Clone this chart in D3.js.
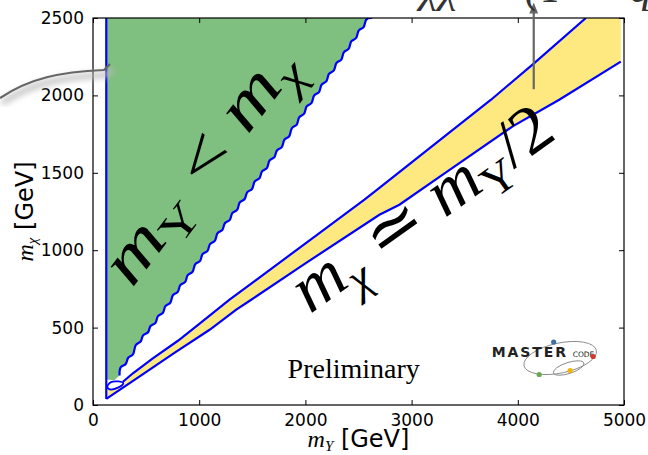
<!DOCTYPE html>
<html>
<head>
<meta charset="utf-8">
<script src="https://cdn.jsdelivr.net/npm/d3@7"></script>
<style>
  body { margin: 0; background: #fff; }
  svg { display: block; }
  .tick text { font-family: "DejaVu Sans", sans-serif; font-size: 17px; fill: #000; }
  .axis path { display: none; }
  .tick line { stroke: #000; }
</style>
</head>
<body>
<div id="chart"></div>
<script>
// axis ticks
var xTicks = [0, 1000, 2000, 3000, 4000, 5000];
var yTicks = [0, 500, 1000, 1500, 2000, 2500];

// left edge of the regions (m_Y threshold)
var edgeMY = 125;

// green region (m_Y < m_chi) : staircase boundary
var greenEdgeMY  = [250, 320, 390, 460, 530, 600, 670, 740, 810, 880, 950, 1020, 1090, 1160, 1230, 1300, 1370, 1440, 1510, 1580, 1650, 1720, 1790, 1860, 1930, 2000, 2070, 2140, 2210, 2280, 2350, 2420, 2490, 2560, 2630];
var greenEdgeMChi = [190, 255, 315, 400, 460, 520, 585, 650, 720, 785, 850, 920, 985, 1050, 1120, 1185, 1250, 1320, 1385, 1455, 1520, 1590, 1655, 1725, 1800, 1870, 1940, 2010, 2080, 2150, 2220, 2290, 2360, 2430, 2500];

// yellow band (m_chi ~ m_Y/2) : lower and upper contours
var lowerMY   = [125, 450, 770, 1098, 1349, 1490, 2000, 2697, 2885, 3300, 3951, 4390, 4970];
var lowerMChi = [39, 190, 338, 486, 616, 680, 915, 1229, 1294, 1491, 1800, 1972, 2218];
var upperMY   = [282, 376, 560, 800, 1004, 1286, 1700, 2100, 2556, 2697, 3200, 3748, 4155, 4641];
var upperMChi = [150, 205, 300, 415, 525, 680, 891, 1094, 1326, 1402, 1675, 1972, 2209, 2500];

// small closed contour near the origin
var loopMY   = [135, 170, 240, 285, 235, 165];
var loopMChi = [118, 148, 152, 140, 112, 100];

var margin = {top: 18, right: 24, bottom: 50, left: 93},
    width = 648 - margin.left - margin.right,
    height = 455 - margin.top - margin.bottom;

var x = d3.scaleLinear().domain([0, 5000]).range([0, width]);
var y = d3.scaleLinear().domain([0, 2500]).range([height, 0]);

var svg = d3.select("#chart").append("svg")
    .attr("width", 648)
    .attr("height", 455);

var defs = svg.append("defs");
defs.append("clipPath").attr("id", "plotclip")
  .append("rect").attr("width", width).attr("height", height);

var g = svg.append("g")
    .attr("transform", "translate(" + margin.left + "," + margin.top + ")");

var plot = g.append("g").attr("clip-path", "url(#plotclip)");

function pts(xs, ys) { return xs.map(function(v, i) { return [v, ys[i]]; }); }

// staircase corners of a grid contour (each step: up, then right)
function stairs(p) {
  var out = [p[0]];
  for (var i = 1; i < p.length; i++) {
    out.push([p[i - 1][0], p[i][1]]);
    out.push(p[i]);
  }
  return out;
}

var lineSmooth = d3.line()
    .x(function(d) { return x(d[0]); })
    .y(function(d) { return y(d[1]); })
    .curve(d3.curveBasis);

var lineLin = d3.line()
    .x(function(d) { return x(d[0]); })
    .y(function(d) { return y(d[1]); });

// green region
var greenEdge = stairs(pts(greenEdgeMY, greenEdgeMChi));
plot.append("path")
    .attr("d", lineLin([[200, 160], [edgeMY, 165], [edgeMY, 2500], [2640, 2500]]) + "L" +
      lineSmooth(greenEdge.slice().reverse()).slice(1) + "Z")
    .attr("fill", "#7fbf7f")
    .attr("stroke", "none");

// yellow band
var lower = pts(lowerMY, lowerMChi);
var upper = pts(upperMY, upperMChi);
var yellowPoly = lower.concat([[4970, 2500]]).concat(upper.slice().reverse()).concat([[200, 110], [edgeMY, 110]]);
plot.append("path")
    .attr("d", lineLin(yellowPoly) + "Z")
    .attr("fill", "#fee880")
    .attr("stroke", "none");

// blue contours
plot.append("path")
    .attr("d", lineSmooth(greenEdge))
    .attr("fill", "none").attr("stroke", "#0000ff").attr("stroke-width", 2.2)
    .attr("stroke-linejoin", "round");

plot.append("path")
    .attr("d", lineLin([[edgeMY, 39], [edgeMY, 2500]]))
    .attr("fill", "none").attr("stroke", "#0000ff").attr("stroke-width", 2.2);

plot.append("path")
    .attr("d", lineLin(lower))
    .attr("fill", "none").attr("stroke", "#0000ff").attr("stroke-width", 2.2);

plot.append("path")
    .attr("d", lineLin(upper))
    .attr("fill", "none").attr("stroke", "#0000ff").attr("stroke-width", 2.2);

plot.append("path")
    .attr("d", d3.line().x(function(d) { return x(d[0]); }).y(function(d) { return y(d[1]); })
      .curve(d3.curveCardinalClosed)(pts(loopMY, loopMChi)))
    .attr("fill", "#fff").attr("stroke", "#0000ff").attr("stroke-width", 1.8);

// axes (inward ticks on all four sides)
g.append("g").attr("class", "axis")
    .attr("transform", "translate(0," + height + ")")
    .call(d3.axisBottom(x).tickValues(xTicks).tickSize(-5).tickPadding(9).tickFormat(d3.format("d")));
g.append("g").attr("class", "axis")
    .call(d3.axisLeft(y).tickValues(yTicks).tickSize(-5).tickPadding(9).tickFormat(d3.format("d")));
g.append("g").attr("class", "axis")
    .call(d3.axisTop(x).tickValues(xTicks).tickSize(-5).tickFormat(""));
g.append("g").attr("class", "axis")
    .attr("transform", "translate(" + width + ",0)")
    .call(d3.axisRight(y).tickValues(yTicks).tickSize(-5).tickFormat(""));

g.append("rect")
    .attr("width", width).attr("height", height)
    .attr("fill", "none").attr("stroke", "#000").attr("stroke-width", 1.2);

// axis labels
var xl = g.append("text")
    .attr("x", x(2500)).attr("y", height + 42)
    .attr("text-anchor", "middle")
    .attr("font-family", "DejaVu Sans").attr("font-size", 24);
xl.append("tspan").attr("font-family", "Liberation Serif").attr("font-style", "italic").text("m");
xl.append("tspan").attr("font-family", "Liberation Serif").attr("font-style", "italic")
    .attr("font-size", 15).attr("dy", 4).text("Y");
xl.append("tspan").attr("dy", -4).text(" [GeV]");

var yl = svg.append("text")
    .attr("transform", "translate(33," + (margin.top + y(1250)) + ")rotate(-90)")
    .attr("text-anchor", "middle")
    .attr("font-family", "DejaVu Sans").attr("font-size", 24);
yl.append("tspan").attr("font-family", "Liberation Serif").attr("font-style", "italic").text("m");
yl.append("tspan").attr("font-family", "Liberation Serif").attr("font-style", "italic")
    .attr("font-size", 15).attr("dy", 4).text("χ");
yl.append("tspan").attr("dy", -4).text(" [GeV]");

// in-plot labels
function mathLabel(cx, cy, angle, size, len, parts) {
  var t = g.append("text")
      .attr("transform", "translate(" + x(cx) + "," + y(cy) + ")rotate(" + angle + ")")
      .attr("y", size * 0.3)
      .attr("text-anchor", "middle")
      .attr("font-family", "Liberation Serif")
      .attr("font-size", size);
  if (len) t.attr("textLength", len).attr("lengthAdjust", "spacingAndGlyphs");
  var base = 0;
  parts.forEach(function(p) {
    var s = t.append("tspan").text(p.t);
    if (p.it) s.attr("font-style", "italic");
    if (p.fam) s.attr("font-family", p.fam);
    var off = p.sub ? size * 0.2 : 0;
    s.attr("dy", off - base);
    base = off;
    if (p.sub) s.attr("font-size", size * 0.66);
  });
}

mathLabel(1005, 1545, -53, 66, 278, [
  {t: "m", it: true}, {t: "Y", sub: true}, {t: " < "},
  {t: "m", it: true}, {t: "χ", it: true, sub: true}
]);

mathLabel(3100, 1265, -35.5, 68, 305, [
  {t: "m", it: true}, {t: "χ", it: true, sub: true}, {t: " "}, {t: "≃", fam: "DejaVu Serif"}, {t: " "},
  {t: "m", it: true}, {t: "Y", sub: true}, {t: "/2"}
]);

g.append("text")
    .attr("x", x(2455)).attr("y", y(176))
    .attr("text-anchor", "middle")
    .attr("font-family", "Liberation Serif").attr("font-size", 28)
    .text("Preliminary");

// MasterCode logo (origin = baseline-left of the word)
var logo = g.append("g").attr("transform", "translate(" + x(3754) + "," + y(310) + ")");
logo.append("ellipse").attr("cx", 0).attr("cy", 0).attr("rx", 37).attr("ry", 15)
    .attr("transform", "translate(68.5,1)rotate(-12)")
    .attr("fill", "none").attr("stroke", "#888").attr("stroke-width", 0.9);
logo.append("ellipse").attr("cx", 0).attr("cy", 0).attr("rx", 16).attr("ry", 5.5)
    .attr("transform", "translate(77,11)rotate(-18)")
    .attr("fill", "none").attr("stroke", "#888").attr("stroke-width", 0.9);
logo.append("text").attr("x", 0).attr("y", 0)
    .attr("font-family", "DejaVu Sans").attr("font-weight", "bold").attr("font-size", 14)
    .attr("letter-spacing", 1.9).attr("fill", "#222").text("MASTER");
logo.append("text").attr("x", 81).attr("y", 0)
    .attr("font-family", "DejaVu Sans").attr("font-size", 7.5).attr("fill", "#222").text("CODE");
[[62, -15, "#3a6ea5"], [101.5, -0.5, "#d23b2c"], [47.5, 17.5, "#6aa84f"], [78.5, 13.5, "#f0b400"]].forEach(function(c) {
  logo.append("circle").attr("cx", c[0]).attr("cy", c[1]).attr("r", 2.6).attr("fill", c[2]);
});

// annotation arrows
var ax = margin.left + x(4150);
defs.append("marker").attr("id", "head")
    .attr("viewBox", "0 0 10 10").attr("refX", 5).attr("refY", 5)
    .attr("markerWidth", 5).attr("markerHeight", 5).attr("orient", "auto")
  .append("path").attr("d", "M0,1L10,5L0,9Z").attr("fill", "#666");
svg.append("line")
    .attr("x1", ax).attr("y1", margin.top + y(2040))
    .attr("x2", ax).attr("y2", 8)
    .attr("stroke", "#666").attr("stroke-width", 2.2)
    .attr("marker-end", "url(#head)");

var filt = defs.append("filter").attr("id", "blur");
filt.append("feGaussianBlur").attr("stdDeviation", 3);
var curve = "M0,98 C30,78 60,72 104,70 L110,64";
svg.append("path").attr("d", curve).attr("transform", "translate(2,5)")
    .attr("fill", "none").attr("stroke", "#bbb").attr("stroke-width", 5)
    .attr("filter", "url(#blur)");
svg.append("path").attr("d", curve)
    .attr("fill", "none").attr("stroke", "#666").attr("stroke-width", 2.2);

// cut-off title at the top
svg.append("text")
    .attr("x", 420).attr("y", 2)
    .attr("font-family", "Liberation Serif").attr("font-style", "italic").attr("font-size", 44)
    .attr("fill", "#333")
    .text("χχ → (Y → q̄q)");
</script>
</body>
</html>
